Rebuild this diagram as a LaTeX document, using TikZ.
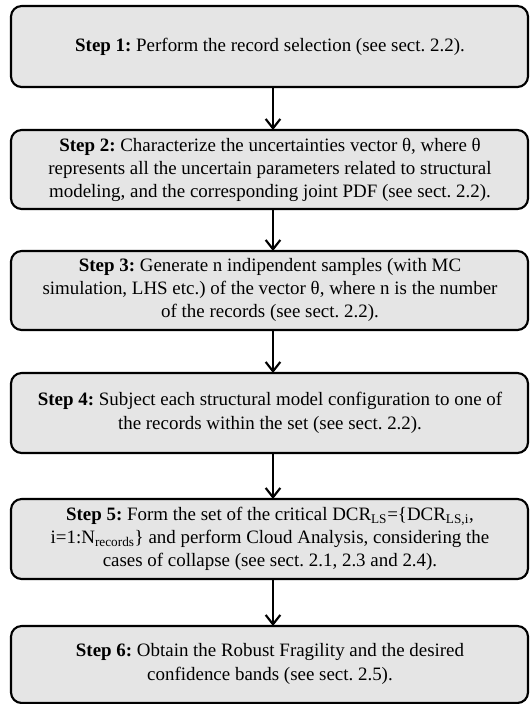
\documentclass[tikz,border=0pt]{standalone}
\usepackage{fontspec}
\setmainfont{Liberation Serif}
\usetikzlibrary{arrows.meta}
\begin{document}
\frenchspacing
\begin{tikzpicture}[x=0.75pt,y=-0.75pt,
  stepbox/.style={draw=black, line width=1.6pt, fill=black!10, rounded corners=8pt},
  steptext/.style={align=center, font=\fontsize{14.2}{17.5}\selectfont, inner sep=0pt},
  flow/.style={line width=1.6pt, -{Straight Barb[length=7pt,width=11pt,line width=1.6pt]}}]
\useasboundingbox (0,0) rectangle (530,704);
\draw[stepbox] (11,6) rectangle (528,87);
\node[coordinate] (b1b) at (273,87) {};
\node[steptext] (t1) at (270,47) {\textbf{Step 1:} Perform the record selection (see sect. 2.2).};

\draw[stepbox] (11,130) rectangle (528,209);
\node[coordinate] (b2t) at (273,130) {};
\node[coordinate] (b2b) at (273,209) {};
\node[steptext] (t2) at (270,170) {\textbf{Step 2:} Characterize the uncertainties vector θ, where θ\\represents all the uncertain parameters related to structural\\modeling, and the corresponding joint PDF (see sect. 2.2).};

\draw[stepbox] (11,251) rectangle (528,330);
\node[coordinate] (b3t) at (273,251) {};
\node[coordinate] (b3b) at (273,330) {};
\node[steptext] (t3) at (270,290) {\textbf{Step 3:} Generate n indipendent samples (with MC\\simulation, LHS etc.) of the vector θ, where n is the number\\of the records (see sect. 2.2).};

\draw[stepbox] (11,373) rectangle (528,453);
\node[coordinate] (b4t) at (273,373) {};
\node[coordinate] (b4b) at (273,453) {};
\node[steptext] (t4) at (270,413) {\textbf{Step 4:} Subject each structural model configuration to one of\\the records within the set (see sect. 2.2).};

\draw[stepbox] (11,499) rectangle (528,579);
\node[coordinate] (b5t) at (273,499) {};
\node[coordinate] (b5b) at (273,579) {};
\node[steptext] (t5) at (270,539) {\textbf{Step 5:} Form the set of the critical DCR\textsubscript{LS}=\{DCR\textsubscript{LS,i},\\i=1:N\textsubscript{records}\} and perform Cloud Analysis, considering the\\cases of collapse (see sect. 2.1, 2.3 and 2.4).};

\draw[stepbox] (11,626) rectangle (528,703);
\node[coordinate] (b6t) at (273,626) {};
\node[steptext] (t6) at (270,664) {\textbf{Step 6:} Obtain the Robust Fragility and the desired\\confidence bands (see sect. 2.5).};

\draw[flow] (b1b) -- (b2t);
\draw[flow] (b2b) -- (b3t);
\draw[flow] (b3b) -- (b4t);
\draw[flow] (b4b) -- (b5t);
\draw[flow] (b5b) -- (b6t);
\end{tikzpicture}
\end{document}
